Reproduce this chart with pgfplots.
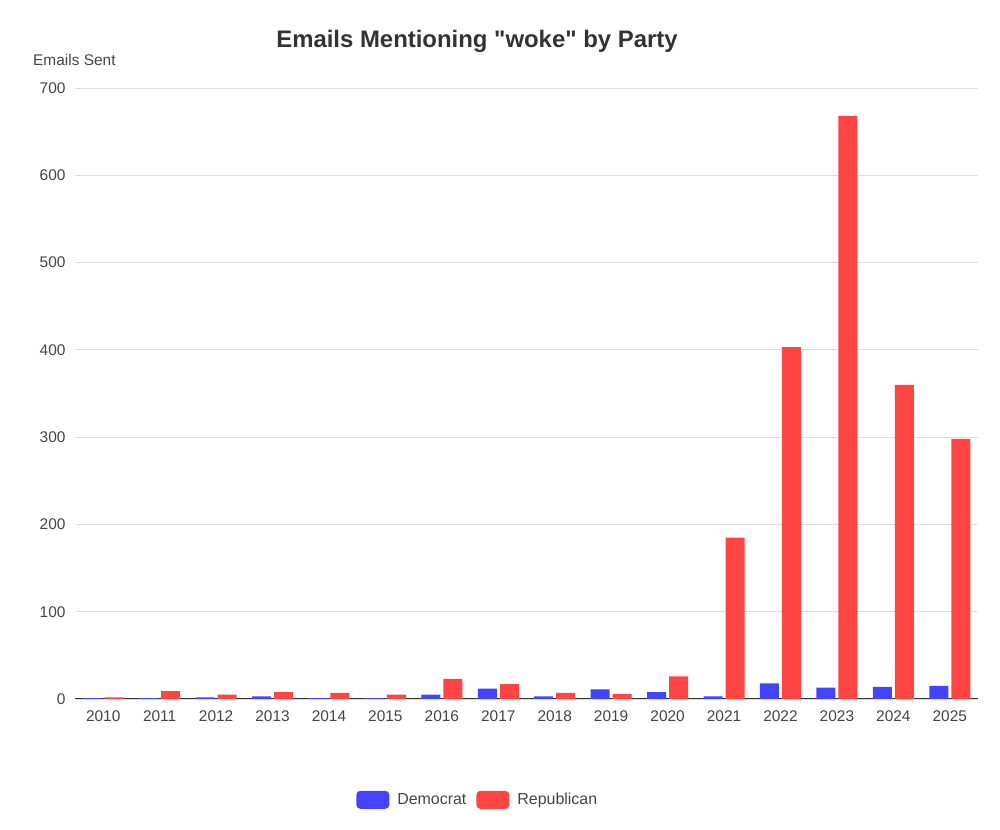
\documentclass[border=0pt]{standalone}
\usepackage{pgfplots}
\pgfplotsset{compat=1.18}
\usepackage{fontspec}
\setmainfont{Liberation Sans}
\newfontfamily\titlefont{Liberation Sans}
\definecolor{dem}{HTML}{4444FF}
\definecolor{rep}{HTML}{FF4444}
\definecolor{txt}{HTML}{444444}
\definecolor{ttl}{HTML}{333333}
\definecolor{gridc}{HTML}{DDDDDD}
\begin{document}
\begin{tikzpicture}[x=1bp,y=1bp]
\useasboundingbox (0,0) rectangle (1000,830);
\begin{axis}[
  at={(75bp,131bp)}, anchor=south west,
  width=903bp, height=611bp, scale only axis,
  ybar=3bp, bar width=19bp,
  xmin=-0.5, xmax=15.5, ymin=0, ymax=700,
  enlargelimits=false,
  xtick={0,...,15},
  xticklabels={2010,2011,2012,2013,2014,2015,2016,2017,2018,2019,2020,2021,2022,2023,2024,2025},
  ytick={0,100,...,700},
  /pgf/number format/assume math mode=true,
  ymajorgrids, grid style={gridc, line width=0.8bp},
  axis lines*=left,
  x axis line style={draw=ttl, line width=1bp},
  y axis line style={draw=none},
  major tick length=0pt,
  tick label style={font=\fontsize{15.5}{18}\selectfont, text=txt},
  yticklabel style={xshift=-6bp},
  xticklabel style={yshift=-8bp},
  legend style={at={(0.446,-0.165)}, anchor=center, draw=none, fill=none,
    legend columns=2, font=\fontsize{16}{18}\selectfont, text=txt,
    /tikz/every odd column/.append style={column sep=6bp},
    /tikz/every even column/.append style={column sep=8bp}},
  legend image code/.code={\fill[rounded corners=4bp] (0bp,-9bp) rectangle (33bp,9bp);},
]
\addplot[fill=dem, draw=none] coordinates {
(0,1) (1,1) (2,2) (3,3) (4,1) (5,1) (6,5) (7,12) (8,3) (9,11) (10,8) (11,3) (12,18) (13,13) (14,14) (15,15)};
\addplot[fill=rep, draw=none] coordinates {
(0,2) (1,9) (2,5) (3,8) (4,7) (5,5) (6,23) (7,17) (8,7) (9,6) (10,26) (11,185) (12,403) (13,668) (14,360) (15,298)};
\legend{Democrat, Republican}
\end{axis}
\node[font=\titlefont\fontsize{24}{28}\selectfont\bfseries, text=ttl] at (477,789) {Emails Mentioning "woke" by Party};
\node[font=\fontsize{15.5}{18}\selectfont, text=txt, anchor=west, inner sep=0pt] at (33,770) {Emails Sent};
\end{tikzpicture}
\end{document}
